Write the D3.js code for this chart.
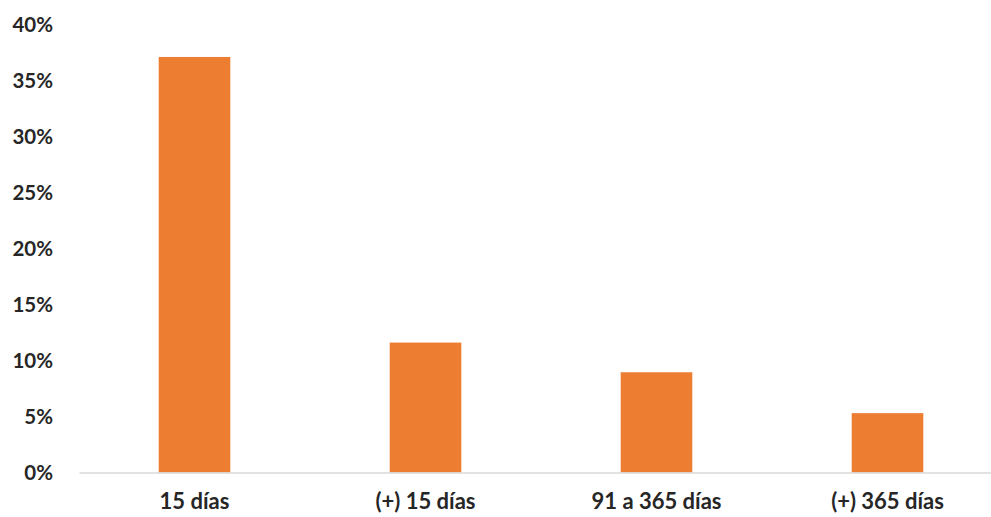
<!DOCTYPE html>
<html>
<head>
<meta charset="utf-8">
<script src="https://cdn.jsdelivr.net/npm/d3@7"></script>
<style>
  body { margin: 0; background: #fff; }
  #chart text { font-family: Lato, "Open Sans", sans-serif; font-weight: bold; fill: #262626; }
</style>
</head>
<body>
<div id="chart"></div>
<script>
// chart values
const categories = ["15 días", "(+) 15 días", "91 a 365 días", "(+) 365 días"];
const shares = [37.1, 11.6, 8.95, 5.3];
const yTicks = [0, 5, 10, 15, 20, 25, 30, 35, 40];

const W = 991, H = 517;
const margin = {top: 24.5, right: -12, bottom: 44.5, left: 79};
const width = W - margin.left - margin.right,
      height = H - margin.top - margin.bottom;

const svg = d3.select("#chart")
  .append("svg")
  .attr("width", W)
  .attr("height", H)
  .append("g")
  .attr("transform", `translate(${margin.left},${margin.top})`);

const x = d3.scaleBand()
  .domain(categories)
  .range([0, width])
  .paddingInner(0.69)
  .paddingOuter(0.345);

const y = d3.scaleLinear()
  .domain([0, 40])
  .range([height, 0]);

// y axis labels only, no line or ticks
const yAxis = svg.append("g")
  .call(d3.axisLeft(y).tickValues(yTicks).tickSize(0).tickPadding(26).tickFormat(d => d + "%"));
yAxis.select(".domain").remove();
yAxis.selectAll("text").style("font-size", "20.5px");

// bars
svg.append("g")
  .selectAll("rect")
  .data(shares)
  .enter()
  .append("rect")
  .attr("x", (d, i) => x(categories[i]))
  .attr("y", d => y(d))
  .attr("width", x.bandwidth())
  .attr("height", d => y(0) - y(d))
  .attr("fill", "#ed7d31");

// baseline + category labels
const xAxis = svg.append("g")
  .attr("transform", `translate(0,${height})`)
  .call(d3.axisBottom(x).tickSize(0).tickPadding(21).tickSizeOuter(0));
xAxis.select(".domain").attr("stroke", "#d9d9d9").attr("stroke-width", 1.3);
xAxis.selectAll("text").style("font-size", "22px");
</script>
</body>
</html>
